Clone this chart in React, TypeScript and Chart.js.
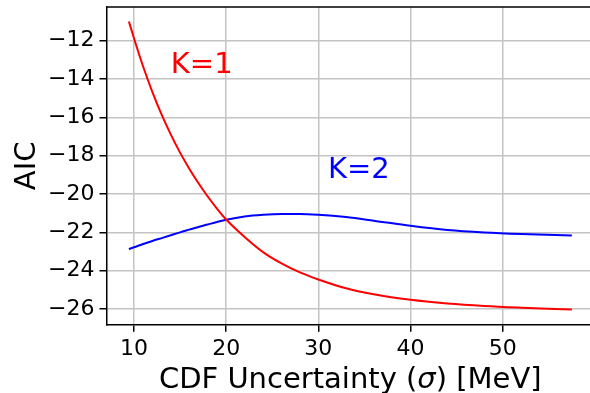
import React, { useEffect, useRef } from 'react';
import { Chart, registerables } from 'chart.js';

Chart.register(...registerables);

// CDF uncertainty sigma [MeV]
const sigmaValues = [9.45, 10, 11, 12, 13, 14, 15, 16, 17, 18, 19, 20, 22, 24, 26, 28, 30, 33, 36, 40, 44, 48, 52, 57.5];
// AIC for K=1 (red)
const aicK1 = [-11.0, -11.87, -13.36, -14.68, -15.86, -16.9, -17.84, -18.68, -19.44, -20.13, -20.76, -21.33, -22.24, -23.03, -23.62, -24.09, -24.46, -24.92, -25.23, -25.52, -25.71, -25.84, -25.93, -26.03];
// AIC for K=2 (blue)
const aicK2 = [-22.87, -22.78, -22.61, -22.45, -22.3, -22.15, -22.0, -21.86, -21.72, -21.59, -21.46, -21.34, -21.17, -21.08, -21.04, -21.04, -21.08, -21.2, -21.39, -21.66, -21.88, -22.01, -22.09, -22.16];

const xTicks = [10, 20, 30, 40, 50];
const yTicks = [-26, -24, -22, -20, -18, -16, -14, -12];

const labelK1 = 'K=1';
const labelK1Pos = [14, -13.7];
const labelK2 = 'K=2';
const labelK2Pos = [31.05, -19.17];

const xTitleParts = ['CDF Uncertainty (', 'σ', ') [MeV]'];
const yTitle = 'AIC';

const FONT = '"DejaVu Sans", sans-serif';

const fmt = (v: number) => (v < 0 ? '\u2212' + Math.abs(v) : String(v));

const framePlugin = {
  id: 'frame',
  afterDraw(chart: any) {
    const { ctx, chartArea } = chart;
    ctx.save();
    ctx.strokeStyle = '#000';
    ctx.lineWidth = 1.5;
    ctx.beginPath();
    ctx.moveTo(chartArea.left, chartArea.top);
    ctx.lineTo(chartArea.right, chartArea.top);
    ctx.stroke();
    ctx.restore();
  },
};

const xTitlePlugin = {
  id: 'xtitle',
  afterDraw(chart: any) {
    const { ctx, chartArea } = chart;
    const normal = '29px ' + FONT;
    const italic = 'italic 29px ' + FONT;
    ctx.save();
    ctx.fillStyle = '#000';
    ctx.textBaseline = 'middle';
    ctx.textAlign = 'left';
    const fonts = [normal, italic, normal];
    const widths = xTitleParts.map((t, i) => {
      ctx.font = fonts[i];
      return ctx.measureText(t).width;
    });
    const total = widths.reduce((a, b) => a + b, 0);
    let x = (chartArea.left + chartArea.right) / 2 - total / 2;
    const y = 380.3;
    xTitleParts.forEach((t, i) => {
      ctx.font = fonts[i];
      ctx.fillText(t, x, y);
      x += widths[i];
    });
    ctx.restore();
  },
};

const textPlugin = {
  id: 'annot',
  afterDatasetsDraw(chart: any) {
    const { ctx } = chart;
    const xs = chart.scales.x;
    const ys = chart.scales.y;
    ctx.save();
    ctx.font = '29px ' + FONT;
    ctx.textAlign = 'left';
    ctx.textBaseline = 'alphabetic';
    ctx.fillStyle = '#ff0000';
    ctx.fillText(labelK1, xs.getPixelForValue(labelK1Pos[0]), ys.getPixelForValue(labelK1Pos[1]));
    ctx.fillStyle = '#0000ff';
    ctx.fillText(labelK2, xs.getPixelForValue(labelK2Pos[0]), ys.getPixelForValue(labelK2Pos[1]));
    ctx.restore();
  },
};

export default function App() {
  const ref = useRef<HTMLCanvasElement | null>(null);
  useEffect(() => {
    if (!ref.current) return;
    const chart = new Chart(ref.current, {
      type: 'line',
      data: {
        datasets: [
          {
            label: 'K=1',
            data: sigmaValues.map((x, i) => ({ x, y: aicK1[i] })),
            borderColor: '#ff0000',
            borderWidth: 2,
            pointRadius: 0,
            cubicInterpolationMode: 'monotone',
            fill: false,
          },
          {
            label: 'K=2',
            data: sigmaValues.map((x, i) => ({ x, y: aicK2[i] })),
            borderColor: '#0000ff',
            borderWidth: 2,
            pointRadius: 0,
            cubicInterpolationMode: 'monotone',
            fill: false,
          },
        ],
      },
      options: {
        responsive: false,
        animation: false,
        devicePixelRatio: 1,
        layout: { padding: { left: 0, top: 7, right: 6, bottom: 0 } },
        plugins: { legend: { display: false }, tooltip: { enabled: false } },
        scales: {
          x: {
            type: 'linear',
            min: 7.02,
            max: 59.9,
            afterBuildTicks: (s: any) => {
              s.ticks = xTicks.map((v) => ({ value: v }));
            },
            afterFit: (s: any) => {
              s.height = 75.3;
              s.paddingLeft = 0;
              s.paddingRight = 0;
            },
            ticks: {
              callback: (v: any) => fmt(Number(v)),
              font: { family: FONT, size: 22 },
              color: '#000',
              padding: 4,
              maxRotation: 0,
            },
            grid: {
              color: '#c4c4c4',
              lineWidth: 1.5,
              tickColor: '#000',
              tickLength: 7,
              tickWidth: 1.5,
            },
            border: { color: '#000', width: 1.5 },
            title: { display: false },
          },
          y: {
            type: 'linear',
            min: -26.82,
            max: -10.24,
            afterBuildTicks: (s: any) => {
              s.ticks = yTicks.map((v) => ({ value: v }));
            },
            afterFit: (s: any) => {
              s.width = 106.5;
              s.paddingTop = 0;
              s.paddingBottom = 0;
            },
            ticks: {
              callback: (v: any) => fmt(Number(v)),
              font: { family: FONT, size: 22 },
              color: '#000',
              padding: 5,
            },
            grid: {
              color: '#c4c4c4',
              lineWidth: 1.5,
              tickColor: '#000',
              tickLength: 7,
              tickWidth: 1.5,
            },
            border: { color: '#000', width: 1.5 },
            title: {
              display: true,
              text: yTitle,
              font: { family: FONT, size: 29 },
              color: '#000',
              padding: { top: 9.6, bottom: 0 },
            },
          },
        },
      },
      plugins: [framePlugin, textPlugin, xTitlePlugin],
    } as any);
    return () => chart.destroy();
  }, []);
  return (
    <div
      style={{
        position: 'fixed',
        left: 0,
        top: 0,
        width: 590,
        height: 393,
        overflow: 'hidden',
        background: '#fff',
      }}
    >
      <canvas ref={ref} width={600} height={400} style={{ width: 600, height: 400, display: 'block' }} />
    </div>
  );
}
